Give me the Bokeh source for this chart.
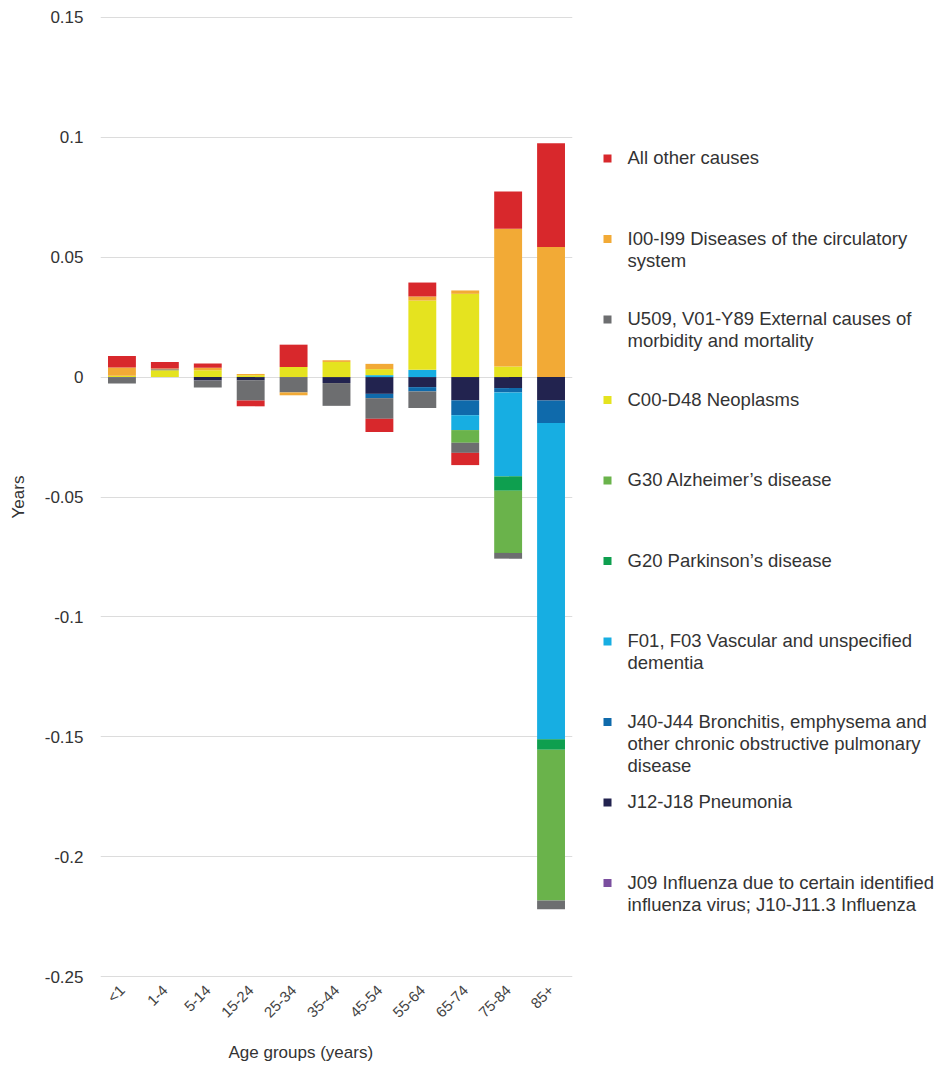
from bokeh.plotting import figure
from bokeh.layouts import row
from bokeh.models import ColumnDataSource, Range1d, FixedTicker, FactorRange, Title
from bokeh.core.properties import value
from bokeh.embed import file_html
from bokeh.resources import INLINE

# ---------------- data ----------------
ages = ["<1", "1-4", "5-14", "15-24", "25-34", "35-44", "45-54", "55-64", "65-74", "75-84", "85+"]

# stacking order: closest to zero first
influenza   = [0.0, 0.0, 0.0, 0.0, 0.0, 0.0, 0.0, 0.0, 0.0, 0.0, 0.0]
pneumonia   = [-0.0002, 0.0, -0.0014, -0.0013, 0.0, -0.0025, -0.0070, -0.0042, -0.0097, -0.0046, -0.0098]
copd        = [0.0, 0.0, 0.0, 0.0, 0.0, 0.0, -0.0018, -0.0018, -0.0062, -0.0018, -0.0094]
dementia    = [0.0, 0.0, 0.0, 0.0, 0.0, 0.0, 0.0008, 0.0030, -0.0062, -0.0350, -0.1318]
parkinsons  = [0.0, 0.0, 0.0, 0.0, 0.0, 0.0, 0.0, 0.0, 0.0, -0.0060, -0.0044]
alzheimers  = [0.0, 0.0, 0.0, 0.0, 0.0, 0.0, 0.0, 0.0, -0.0053, -0.0259, -0.0628]
neoplasms   = [0.0005, 0.0028, 0.0028, 0.0008, 0.0042, 0.0063, 0.0025, 0.0289, 0.0347, 0.0044, 0.0]
external    = [-0.0025, 0.0005, -0.0030, -0.0085, -0.0064, -0.0095, -0.0086, -0.0069, -0.0042, -0.0024, -0.0037]
circulatory = [0.0035, 0.0003, 0.0011, 0.0005, -0.0012, 0.0007, 0.0022, 0.0017, 0.0014, 0.0574, 0.0542]
other       = [0.0048, 0.0027, 0.0017, -0.0024, 0.0093, 0.0, -0.0055, 0.0058, -0.0051, 0.0155, 0.0433]

series_labels = [
    "J09 Influenza due to certain identified\ninfluenza virus; J10-J11.3 Influenza",
    "J12-J18 Pneumonia",
    "J40-J44 Bronchitis, emphysema and\nother chronic obstructive pulmonary\ndisease",
    "F01, F03 Vascular and unspecified\ndementia",
    "G20 Parkinson\u2019s disease",
    "G30 Alzheimer\u2019s disease",
    "C00-D48 Neoplasms",
    "U509, V01-Y89 External causes of\nmorbidity and mortality",
    "I00-I99 Diseases of the circulatory\nsystem",
    "All other causes",
]
series_values = [influenza, pneumonia, copd, dementia, parkinsons, alzheimers,
                 neoplasms, external, circulatory, other]
series_colors = ["#7b4f9f", "#22234f", "#0f6aab", "#17aee2", "#0e9f4f",
                 "#6ab34b", "#e5e31f", "#6d6e70", "#f2aa36", "#d8282c"]

y_ticks = [-0.25, -0.2, -0.15, -0.1, -0.05, 0, 0.05, 0.1, 0.15]
y_tick_labels = ["-0.25", "-0.2", "-0.15", "-0.1", "-0.05", "0", "0.05", "0.1", "0.15"]

FONT = "Liberation Sans"
TXT = "#333333"

# layout (page pixels)
FRAME_L, FRAME_R, FRAME_T, FRAME_B = 100, 572, 16, 977
MAIN_W = 592
H = 1073

# ---------------- main chart ----------------
p = figure(width=MAIN_W, height=H, x_range=FactorRange(*ages),
           y_range=Range1d(-0.2503, 0.1503),
           output_backend="svg", toolbar_location=None,
           min_border_left=FRAME_L, min_border_right=MAIN_W - FRAME_R,
           min_border_top=FRAME_T, min_border_bottom=H - FRAME_B)
p.outline_line_color = None
p.background_fill_color = "white"
p.border_fill_color = "white"

pos = [0.0] * len(ages)
neg = [0.0] * len(ages)
for vals, col in zip(series_values, series_colors):
    bottoms, tops, xs = [], [], []
    for i, v in enumerate(vals):
        if v == 0:
            continue
        if v > 0:
            b, t = pos[i], pos[i] + v
            pos[i] = t
        else:
            b, t = neg[i], neg[i] + v
            neg[i] = t
        xs.append(ages[i]); bottoms.append(b); tops.append(t)
    if xs:
        src = ColumnDataSource(dict(x=xs, bottom=bottoms, top=tops))
        p.vbar(x="x", bottom="bottom", top="top", width=0.65, source=src,
               fill_color=col, line_color=None)

p.yaxis.ticker = FixedTicker(ticks=y_ticks)
p.yaxis.major_label_overrides = {t: l for t, l in zip(y_ticks, y_tick_labels)}
p.ygrid.ticker = FixedTicker(ticks=y_ticks)
p.ygrid.grid_line_color = "#dcdcdc"
p.xgrid.grid_line_color = None

for ax in (p.xaxis, p.yaxis):
    ax.axis_line_color = None
    ax.major_tick_line_color = None
    ax.minor_tick_line_color = None
    ax.major_tick_out = 0
    ax.major_tick_in = 0
    ax.major_label_text_font = FONT
    ax.major_label_text_color = TXT
    ax.axis_label_text_font = FONT
    ax.axis_label_text_color = TXT
    ax.axis_label_text_font_style = "normal"

p.yaxis.major_label_text_font_size = "17px"
p.yaxis.major_label_standoff = 17
p.yaxis.axis_label = "Years"
p.yaxis.axis_label_text_font_size = "17px"
p.yaxis.axis_label_standoff = 14

p.xaxis.major_label_text_font_size = "15px"
p.xaxis.major_label_text_color = "#444444"
p.xaxis.major_label_orientation = 0.785
p.xaxis.major_label_standoff = 10

p.add_layout(Title(text="Age groups (years)", text_font=FONT, text_font_size="17px",
                   text_color=TXT, text_font_style="normal", align="left",
                   offset=128, standoff=23), "below")

# ---------------- legend ----------------
leg_w = 940 - MAIN_W
# the row aligns this frame with the chart frame, so use page pixels as data units
lg = figure(width=leg_w, height=H, x_range=Range1d(0, leg_w),
            y_range=Range1d(FRAME_B, FRAME_T),
            output_backend="svg", toolbar_location=None, min_border=0)
lg.axis.visible = False
lg.grid.visible = False
lg.outline_line_color = None

order = list(range(len(series_labels)))[::-1]
leg_labels = [series_labels[i] for i in order]
leg_colors = [series_colors[i] for i in order]
leg_y = [158 + 80.5 * k for k in range(len(order))]
leg_src = ColumnDataSource(dict(
    x=[15] * len(order), tx=[35] * len(order), y=leg_y,
    ty=[y - 11.5 for y in leg_y], label=leg_labels, color=leg_colors))
lg.scatter(x="x", y="y", marker="square", size=8, fill_color="color",
           line_color=None, source=leg_src)
lg.text(x="tx", y="ty", text="label", source=leg_src, text_font=value(FONT),
        text_font_size="18.5px", text_color=TXT, text_baseline="top",
        text_align="left", text_line_height=1.06)

layout = row(p, lg)
open("out.html", "w").write(file_html(layout, INLINE))
